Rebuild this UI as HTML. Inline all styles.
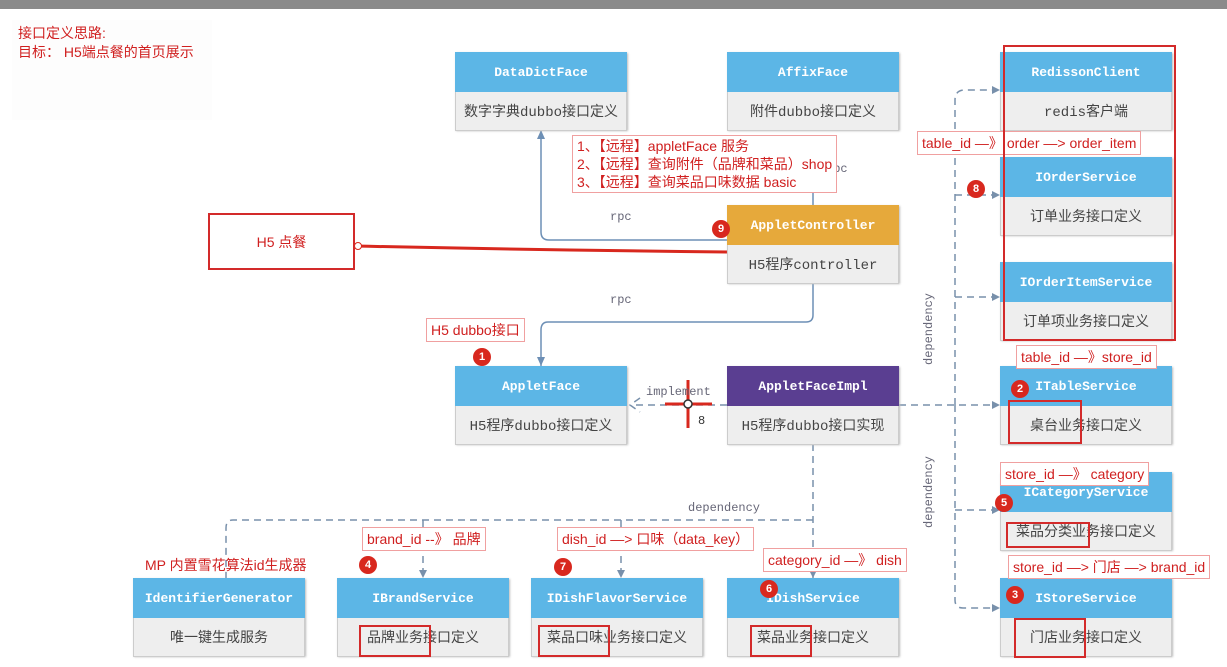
<!DOCTYPE html>
<html><head><meta charset="utf-8"><style>
body{margin:0;width:1227px;height:667px;background:#fff;position:relative;overflow:hidden;font-family:"Liberation Sans","Noto Sans CJK SC",sans-serif}
.b{position:absolute;width:172px;height:78px;box-shadow:1px 1px 2px #bbb}
.h{height:40px;background:#5cb6e6;color:#fff;font:bold 13px "Liberation Mono","Noto Sans CJK SC",monospace;display:flex;align-items:center;justify-content:center}
.d{height:38px;background:#eeeeee;border:1px solid #ccc;border-top:none;color:#444;font-size:14px;display:flex;align-items:center;justify-content:center;font-family:"Liberation Mono","Noto Sans CJK SC",monospace}
.n{position:absolute;border:1px solid #f0a0a0;background:#fff;color:#d02020;font-size:14px;padding:1px 4px;white-space:nowrap}
.r{position:absolute;border:2px solid #d32a2a}
.c{position:absolute;width:18px;height:18px;border-radius:50%;background:#d8281e;color:#fff;font-size:11px;font-weight:bold;display:flex;align-items:center;justify-content:center}
.t{position:absolute;color:#667;font:12px "Liberation Mono",monospace}
</style></head><body>
<div style="position:absolute;left:0;top:0;width:1227px;height:9px;background:#8a8a8a"></div>
<div style="position:absolute;left:12px;top:20px;width:200px;height:100px;background:#fdfdfd"></div>
<div style="position:absolute;left:18px;top:24px;color:#d02020;font-size:14px;line-height:19px">接口定义思路:<br>目标： H5端点餐的首页展示</div>

<svg width="1227" height="667" style="position:absolute;left:0;top:0">
<g fill="none" stroke="#6d8fb5" stroke-width="1.5">
<path d="M813 205 V190 M541 130 V232 Q541 240 549 240 H727"/>
<path d="M813 283 V315 Q813 322 806 322 H548 Q541 322 541 330 V366"/>
</g>
<g fill="#6d8fb5"><path d="M541 130 L537 139 L545 139Z M541 366 L537 357 L545 357Z"/></g>
<g fill="none" stroke="#7890ab" stroke-width="1.5" stroke-dasharray="7,5">
<path d="M727 405 H632 M640 398 L630 405 L640 412"/>
<path d="M899 405 H995"/>
<path d="M955 405 V100 Q955 90 965 90 H995 M955 195 H995 M955 297 H995"/>
<path d="M955 405 V600 Q955 608 963 608 H995 M955 510 H995"/>
<path d="M813 444 V578"/>
<path d="M813 520 H233 Q226 520 226 528 V578 M423 520 V578 M621 520 V578"/>
</g>
<g fill="#7890ab"><path d="M1000 90 l-8 -4 v8Z M1000 195 l-8 -4 v8Z M1000 297 l-8 -4 v8Z M1000 405 l-8 -4 v8Z M1000 510 l-8 -4 v8Z M1000 608 l-8 -4 v8Z M423 578 l-4 -8 h8Z M621 578 l-4 -8 h8Z M813 578 l-4 -8 h8Z"/></g>
<path d="M355 246 Q540 250 727 252" stroke="#d8281e" stroke-width="3" fill="none"/>
<circle cx="358" cy="246" r="3.5" fill="#fff" stroke="#d8281e"/>
<circle cx="733" cy="251" r="3.5" fill="#fff" stroke="#d8281e"/>
<path d="M688 380 V428 M665 404 H712" stroke="#d8281e" stroke-width="3"/>
<circle cx="688" cy="404" r="4" fill="#fff" stroke="#333" stroke-width="1.5"/>
</svg>

<div class="t" style="left:610px;top:210px">rpc</div>
<div class="t" style="left:610px;top:293px">rpc</div>
<div class="t" style="left:826px;top:162px">rpc</div>
<div class="t" style="left:646px;top:385px">implement</div>
<div class="t" style="left:698px;top:414px;color:#333">8</div>
<div class="t" style="left:688px;top:501px">dependency</div>
<div class="t" style="left:922px;top:365px;transform:rotate(-90deg);transform-origin:left top">dependency</div>
<div class="t" style="left:922px;top:528px;transform:rotate(-90deg);transform-origin:left top">dependency</div>

<div class="b" style="left:455px;top:52px"><div class="h">DataDictFace</div><div class="d">数字字典dubbo接口定义</div></div>
<div class="b" style="left:727px;top:52px"><div class="h">AffixFace</div><div class="d">附件dubbo接口定义</div></div>
<div class="b" style="left:727px;top:205px"><div class="h" style="background:#e6a93b">AppletController</div><div class="d">H5程序controller</div></div>
<div class="b" style="left:455px;top:366px"><div class="h">AppletFace</div><div class="d">H5程序dubbo接口定义</div></div>
<div class="b" style="left:727px;top:366px"><div class="h" style="background:#5a3e91">AppletFaceImpl</div><div class="d">H5程序dubbo接口实现</div></div>
<div class="b" style="left:1000px;top:52px"><div class="h">RedissonClient</div><div class="d">redis客户端</div></div>
<div class="b" style="left:1000px;top:157px"><div class="h">IOrderService</div><div class="d">订单业务接口定义</div></div>
<div class="b" style="left:1000px;top:262px"><div class="h">IOrderItemService</div><div class="d">订单项业务接口定义</div></div>
<div class="b" style="left:1000px;top:366px"><div class="h">ITableService</div><div class="d">桌台业务接口定义</div></div>
<div class="b" style="left:1000px;top:472px"><div class="h">ICategoryService</div><div class="d">菜品分类业务接口定义</div></div>
<div class="b" style="left:1000px;top:578px"><div class="h">IStoreService</div><div class="d">门店业务接口定义</div></div>
<div class="b" style="left:133px;top:578px"><div class="h">IdentifierGenerator</div><div class="d">唯一键生成服务</div></div>
<div class="b" style="left:337px;top:578px"><div class="h">IBrandService</div><div class="d">品牌业务接口定义</div></div>
<div class="b" style="left:531px;top:578px"><div class="h">IDishFlavorService</div><div class="d">菜品口味业务接口定义</div></div>
<div class="b" style="left:727px;top:578px"><div class="h">IDishService</div><div class="d">菜品业务接口定义</div></div>

<div class="r" style="left:208px;top:213px;width:143px;height:53px;display:flex;align-items:center;justify-content:center;color:#d02020;font-size:14px">H5 点餐</div>
<div class="n" style="left:572px;top:135px;line-height:18px">1、【远程】appletFace 服务<br>2、【远程】查询附件（品牌和菜品）shop<br>3、【远程】查询菜品口味数据 basic</div>
<div class="n" style="left:426px;top:318px">H5 dubbo接口</div>
<div class="n" style="left:917px;top:131px">table_id —》 order —&gt; order_item</div>
<div class="n" style="left:1016px;top:345px">table_id —》store_id</div>
<div class="n" style="left:1000px;top:462px">store_id —》 category</div>
<div class="n" style="left:1008px;top:555px">store_id —&gt; 门店 —&gt; brand_id</div>
<div class="n" style="left:362px;top:527px">brand_id --》 品牌</div>
<div class="n" style="left:557px;top:527px">dish_id —&gt; 口味（data_key）</div>
<div class="n" style="left:763px;top:548px">category_id —》 dish</div>
<div style="position:absolute;left:145px;top:555px;color:#d02020;font-size:14px">MP 内置雪花算法id生成器</div>

<div class="r" style="left:1003px;top:45px;width:169px;height:292px"></div>
<div class="r" style="left:1008px;top:400px;width:70px;height:40px"></div>
<div class="r" style="left:1006px;top:522px;width:80px;height:22px"></div>
<div class="r" style="left:1014px;top:618px;width:68px;height:36px"></div>
<div class="r" style="left:359px;top:625px;width:68px;height:28px"></div>
<div class="r" style="left:538px;top:625px;width:68px;height:28px"></div>
<div class="r" style="left:750px;top:625px;width:58px;height:28px"></div>

<div class="c" style="left:712px;top:220px">9</div>
<div class="c" style="left:967px;top:180px">8</div>
<div class="c" style="left:473px;top:348px">1</div>
<div class="c" style="left:1011px;top:380px">2</div>
<div class="c" style="left:995px;top:494px">5</div>
<div class="c" style="left:1006px;top:586px">3</div>
<div class="c" style="left:359px;top:556px">4</div>
<div class="c" style="left:554px;top:558px">7</div>
<div class="c" style="left:760px;top:580px">6</div>
</body></html>
